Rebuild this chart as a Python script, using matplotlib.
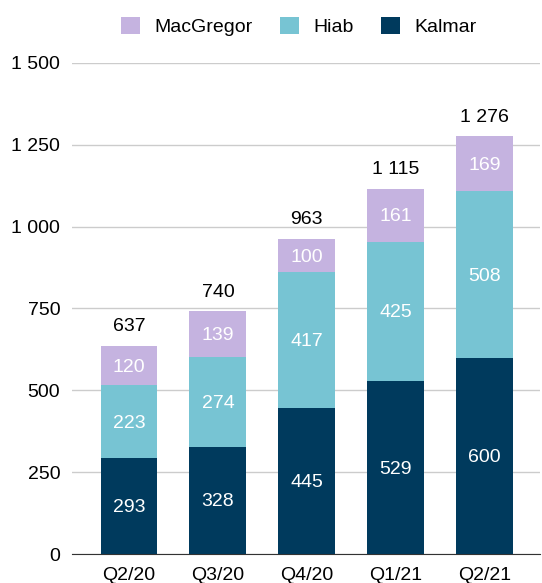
import matplotlib.pyplot as plt
import numpy as np

quarters = ['Q2/20', 'Q3/20', 'Q4/20', 'Q1/21', 'Q2/21']
kalmar = [293, 328, 445, 529, 600]
hiab = [223, 274, 417, 425, 508]
macgregor = [120, 139, 100, 161, 169]
totals = [637, 740, 963, 1115, 1276]

c_kalmar = '#003A5D'
c_hiab = '#77C4D3'
c_mac = '#C5B3E0'

plt.rcParams['font.family'] = ['Liberation Sans', 'DejaVu Sans']
fs = 14

fig = plt.figure(figsize=(5.42, 5.83), dpi=100)
ax = fig.add_axes([0.133, 0.0497, 0.863, 0.8424])

x = np.arange(len(quarters))
w = 0.64
b1 = ax.bar(x, kalmar, w, color=c_kalmar, label='Kalmar', zorder=3)
b2 = ax.bar(x, hiab, w, bottom=kalmar, color=c_hiab, label='Hiab', zorder=3)
bot3 = [k + h for k, h in zip(kalmar, hiab)]
b3 = ax.bar(x, macgregor, w, bottom=bot3, color=c_mac, label='MacGregor', zorder=3)

# values inside the segments
for bars, vals in [(b1, kalmar), (b2, hiab), (b3, macgregor)]:
    for r, v in zip(bars, vals):
        ax.text(r.get_x() + r.get_width() / 2, r.get_y() + r.get_height() / 2 - 5, str(v),
                ha='center', va='center', color='white', fontsize=fs, zorder=4)

def fmt(v):
    return f"{v:,}".replace(',', ' ')

# totals on top
for i, t in enumerate(totals):
    ax.text(x[i], t + 32, fmt(t), ha='center', va='bottom', color='black', fontsize=fs)

ax.set_ylim(0, 1500)
ax.set_xlim(-0.64, 4.62)
ax.set_yticks(range(0, 1501, 250))
ax.set_yticklabels([fmt(v) for v in range(0, 1501, 250)], fontsize=fs)
ax.set_xticks(x)
ax.set_xticklabels(quarters, fontsize=fs)
ax.yaxis.grid(True, color='#cccccc', linewidth=1, zorder=0)
for s in ['top', 'right', 'left']:
    ax.spines[s].set_visible(False)
ax.spines['bottom'].set_color('#333333')
ax.tick_params(axis='y', length=0, pad=8.5)
ax.tick_params(axis='x', length=0, pad=9)

handles = [b3, b2, b1]
fig.legend(handles, ['MacGregor', 'Hiab', 'Kalmar'], loc='center left',
           bbox_to_anchor=(0.2232, 0.955), ncol=3, frameon=False, fontsize=fs,
           handlelength=1.0, handleheight=1.0, columnspacing=1.4, handletextpad=0.72,
           borderpad=0, borderaxespad=0)

fig.savefig('out.png', dpi=100)
